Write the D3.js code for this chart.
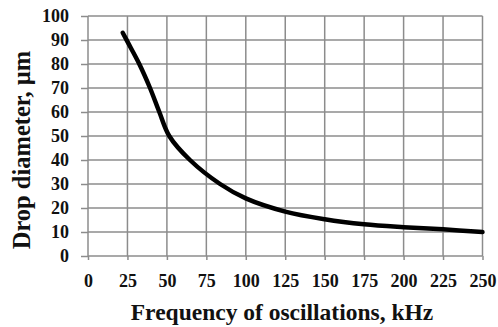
<!DOCTYPE html>
<html>
<head>
<meta charset="utf-8">
<script src="https://cdn.jsdelivr.net/npm/d3@7"></script>
<style>
  html, body { margin: 0; padding: 0; background: #fff; }
  svg { display: block; }
</style>
</head>
<body>
<svg id="chart" width="498" height="327"></svg>
<script>
// Drop diameter versus ultrasonic oscillation frequency
const frequencyKHz = [22, 25, 32.5, 39.3, 45.2, 51.5, 64.6, 83.7, 100, 125, 150, 175, 200, 225, 250];
const dropDiameterUm = [93, 89.3, 80, 70, 60, 50, 40, 30, 24, 18.5, 15.3, 13.2, 12, 11.1, 10];
const xTicks = [0, 25, 50, 75, 100, 125, 150, 175, 200, 225, 250];
const yTicks = [0, 10, 20, 30, 40, 50, 60, 70, 80, 90, 100];

const serif = "Liberation Serif";
const svg = d3.select("#chart");
const margin = { left: 88, right: 15.5, top: 16, bottom: 71 };
const W = 498, H = 327;

const x = d3.scaleLinear().domain([0, 250]).range([margin.left, W - margin.right]);
const y = d3.scaleLinear().domain([0, 100]).range([H - margin.bottom, margin.top]);

// grid
const grid = svg.append("g").attr("stroke", "#8c8c8c").attr("stroke-width", 1.5);
grid.selectAll("line.v").data(xTicks).join("line")
  .attr("x1", d => x(d)).attr("x2", d => x(d))
  .attr("y1", y(100)).attr("y2", y(0));
grid.selectAll("line.h").data(yTicks).join("line")
  .attr("x1", x(0)).attr("x2", x(250))
  .attr("y1", d => y(d)).attr("y2", d => y(d));

// axes
const xAxis = d3.axisBottom(x).tickValues(xTicks).tickSize(4).tickPadding(14);
const yAxis = d3.axisLeft(y).tickValues(yTicks).tickSize(7).tickPadding(12);

const gx = svg.append("g").attr("transform", `translate(0,${y(0)})`).call(xAxis);
const gy = svg.append("g").attr("transform", `translate(${x(0)},0)`).call(yAxis);
[gx, gy].forEach(g => {
  g.attr("font-family", serif).attr("font-size", 18).attr("font-weight", "bold");
  g.select(".domain").remove();
  g.selectAll(".tick line").attr("stroke", "#8c8c8c").attr("stroke-width", 1.5);
  g.selectAll(".tick text").attr("fill", "#111");
});

// curve
const pts = frequencyKHz.map((f, i) => [f, dropDiameterUm[i]]);
svg.append("path")
  .datum(pts)
  .attr("fill", "none")
  .attr("stroke", "#000")
  .attr("stroke-width", 4.5)
  .attr("stroke-linecap", "round")
  .attr("d", d3.line().x(d => x(d[0])).y(d => y(d[1])).curve(d3.curveCatmullRom.alpha(0.5)));

// titles
const titleStyle = sel => sel
  .attr("font-family", serif).attr("font-weight", "bold")
  .attr("font-size", 23.5).attr("fill", "#111");

svg.append("text").call(titleStyle)
  .attr("x", 282).attr("y", 320)
  .attr("text-anchor", "middle")
  .text("Frequency of oscillations, kHz");

svg.append("text").call(titleStyle)
  .attr("font-size", 24.5)
  .attr("transform", `translate(30,150) rotate(-90)`)
  .attr("text-anchor", "middle")
  .text("Drop diameter, µm");
</script>
</body>
</html>
